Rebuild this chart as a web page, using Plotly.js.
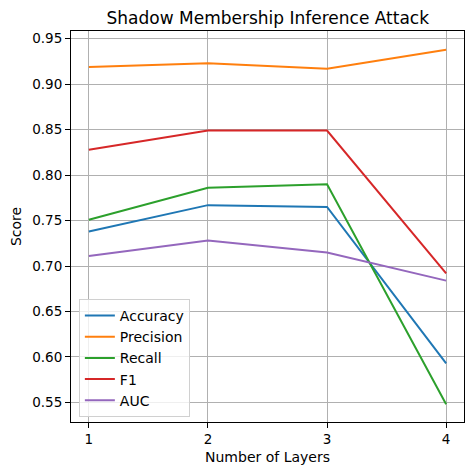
<!DOCTYPE html>
<html>
<head>
<meta charset="utf-8">
<script src="https://cdn.plot.ly/plotly-3.0.1.min.js"></script>
<style>
  body { margin: 0; background: white; }
  #chart { width: 474px; height: 476px; }
</style>
</head>
<body>
<div id="chart"></div>
<script>
var layers = [1, 2, 3, 4];
var accuracy = [0.738, 0.767, 0.765, 0.593];
var precision = [0.919, 0.923, 0.917, 0.938];
var recall = [0.751, 0.786, 0.790, 0.548];
var f1 = [0.828, 0.849, 0.849, 0.692];
var auc = [0.711, 0.728, 0.715, 0.684];

var names = ["Accuracy", "Precision", "Recall", "F1", "AUC"];
var series = [accuracy, precision, recall, f1, auc];
var colors = ["#1f77b4", "#ff7f0e", "#2ca02c", "#d62728", "#9467bd"];

var data = [];
for (let i = 0; i < series.length; i++) {
  data.push({
    x: layers,
    y: series[i],
    mode: "lines",
    name: names[i],
    line: {color: colors[i], width: 2}
  });
}

var font = "DejaVu Sans, sans-serif";

var layout = {
  width: 474,
  height: 476,
  margin: {l: 71, r: 10, t: 31, b: 54},
  paper_bgcolor: "white",
  plot_bgcolor: "white",
  font: {family: font, size: 13.5, color: "black"},
  title: {
    text: "Shadow Membership Inference Attack",
    font: {family: font, size: 17, color: "black"},
    x: 0.565, xanchor: "center",
    y: 0.963, yanchor: "middle"
  },
  xaxis: {
    range: [0.85, 4.15],
    tickvals: layers,
    ticktext: ["1", "2", "3", "4"],
    ticks: "outside", ticklen: 5, tickcolor: "black",
    showline: true, linecolor: "black", linewidth: 1, mirror: true,
    showgrid: true, gridcolor: "#b0b0b0", gridwidth: 1,
    zeroline: false,
    title: {text: "Number of Layers", font: {family: font, size: 14}, standoff: 5}
  },
  yaxis: {
    range: [0.5285, 0.9585],
    tickvals: [0.55, 0.60, 0.65, 0.70, 0.75, 0.80, 0.85, 0.90, 0.95],
    ticktext: ["0.55", "0.60", "0.65", "0.70", "0.75", "0.80", "0.85", "0.90", "0.95"],
    ticks: "outside", ticklen: 5, tickcolor: "black",
    showline: true, linecolor: "black", linewidth: 1, mirror: true,
    showgrid: true, gridcolor: "#b0b0b0", gridwidth: 1,
    zeroline: false,
    title: {text: "Score", font: {family: font, size: 14}, standoff: 7}
  },
  showlegend: true,
  legend: {
    x: 0.02, y: 0.013, xanchor: "left", yanchor: "bottom",
    bgcolor: "rgba(255,255,255,0.8)",
    bordercolor: "#d0d0d0", borderwidth: 1,
    font: {family: font, size: 14},
    tracegroupgap: 0
  }
};

Plotly.newPlot("chart", data, layout, {displayModeBar: false});
</script>
</body>
</html>
